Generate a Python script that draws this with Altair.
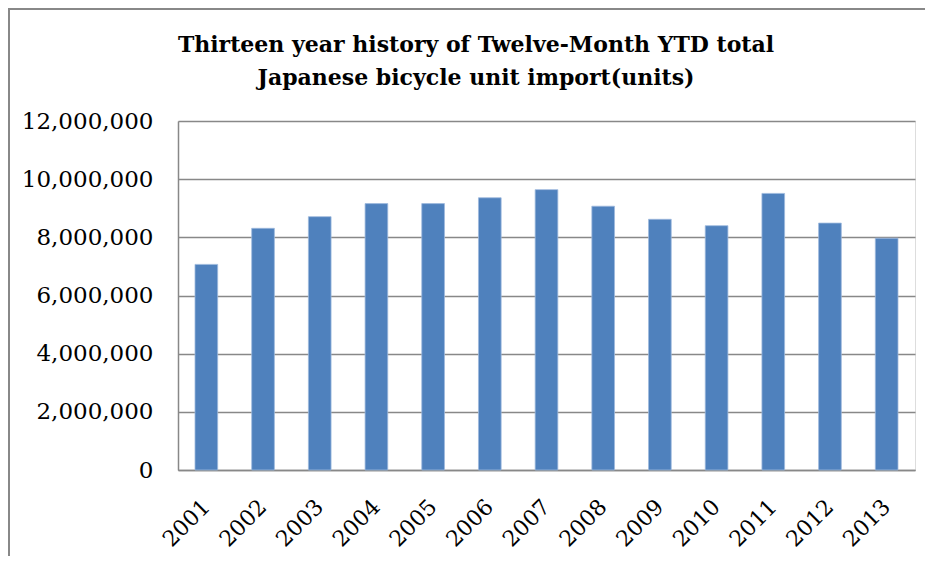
import altair as alt
import pandas as pd

years = ["2001", "2002", "2003", "2004", "2005", "2006", "2007",
         "2008", "2009", "2010", "2011", "2012", "2013"]
units = [7070000, 8310000, 8710000, 9160000, 9160000, 9360000, 9640000,
         9070000, 8620000, 8400000, 9510000, 8490000, 7970000]
title_lines = ["Thirteen year history of Twelve-Month YTD total",
               "Japanese bicycle unit import(units)"]

df = pd.DataFrame({"year": years, "units": units})
tdf = pd.DataFrame({"line": title_lines, "i": [0, 1]})

W, H = 737, 349
FONT = "DejaVu Serif"

bars = alt.Chart(df).mark_bar(color="#4F81BD", stroke="#9DB9DD", strokeWidth=0.8).encode(
    x=alt.X("year:N", sort=years, title=None,
            scale=alt.Scale(paddingInner=0.6, paddingOuter=0.3),
            axis=alt.Axis(labelAngle=-45, labelAlign="right", labelBaseline="middle",
                          labelFont=FONT, labelFontSize=22, labelColor="#000",
                          labelPadding=33, ticks=False, domainColor="#888",
                          domainWidth=1.5)),
    y=alt.Y("units:Q", title=None,
            scale=alt.Scale(domain=[0, 12000000], nice=False),
            axis=alt.Axis(values=[0, 2000000, 4000000, 6000000, 8000000, 10000000, 12000000],
                          format=",d", labelFont=FONT, labelFontSize=23, labelColor="#000",
                          labelPadding=25, ticks=False, grid=True, gridColor="#888",
                          gridWidth=1.5, domainColor="#888", domainWidth=1.5)),
)

title = alt.Chart(tdf).mark_text(font=FONT, fontSize=22, fontWeight="bold",
                                  align="center", baseline="alphabetic", color="#000").encode(
    x=alt.value(476 - 178),
    y=alt.Y("i:Q", scale=alt.Scale(domain=[0, 1], range=[-69, -36]), axis=None),
    text="line:N",
)

border = alt.Chart(pd.DataFrame({"a": [0]})).mark_rect(
    fill=None, stroke="#888", strokeWidth=2).encode(
    x=alt.value(-169), x2=alt.value(W + 60),
    y=alt.value(-112), y2=alt.value(H + 200),
)

chart = alt.layer(border, bars, title).resolve_scale(y="independent").properties(
    width=W, height=H,
    padding={"left": 170, "top": 113, "right": 10, "bottom": 86},
    autosize=alt.AutoSizeParams(type="none"),
).configure_view(stroke=None).configure(background="white")

chart.save("out.html", embed_options={"renderer": "svg", "actions": False})
